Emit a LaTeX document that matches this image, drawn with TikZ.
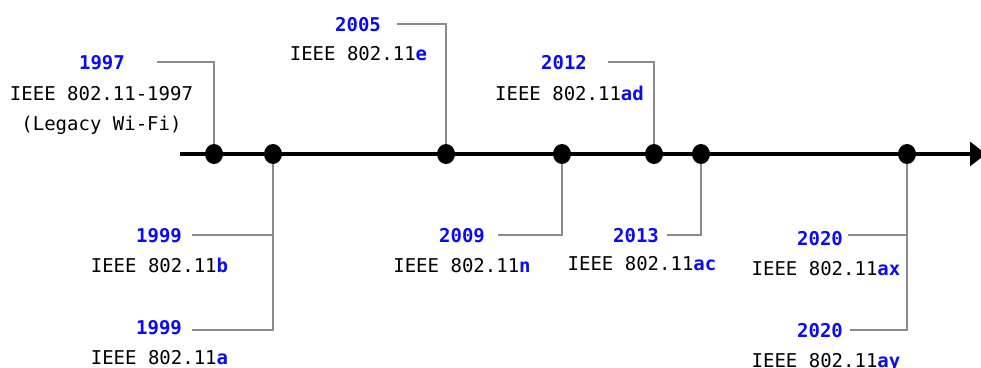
\documentclass[tikz,border=0pt]{standalone}
\usepackage{fontspec}
\setmainfont{DejaVu Sans Mono}
\usetikzlibrary{arrows.meta,shapes.geometric}
\definecolor{yrblue}{RGB}{10,10,245}
\definecolor{conngray}{RGB}{140,140,140}
\begin{document}
\begin{tikzpicture}[x=1pt,y=-1pt,
  txt/.style={anchor=base,inner sep=0pt,font=\fontsize{19}{24}\selectfont},
  yr/.style={txt,text=yrblue,font=\fontsize{19}{24}\selectfont\bfseries},
  dot/.style={ellipse,fill=black,minimum width=18pt,minimum height=20pt,inner sep=0pt},
  conn/.style={draw=conngray,line width=1.1pt},
  axisline/.style={draw=black,line width=3.1pt,-{Triangle[length=16pt,width=24pt]}}]
\useasboundingbox (0,0) rectangle (981,367);
% axis
\coordinate (axs) at (180,154);
\coordinate (axe) at (986,154);
\draw[axisline] (axs) -- (axe);
% dots
\node[dot] (d1997) at (214,154) {};
\node[dot] (d1999) at (273,154) {};
\node[dot] (d2005) at (446,154) {};
\node[dot] (d2009) at (562,154) {};
\node[dot] (d2012) at (654,154) {};
\node[dot] (d2013) at (701,154) {};
\node[dot] (d2020) at (907,154) {};
% connector ends
\coordinate (c1997) at (157,62);
\coordinate (c2005) at (397,24);
\coordinate (c2012) at (608,62);
\coordinate (c1999b) at (192,235);
\coordinate (c1999a) at (192,330);
\coordinate (c2009) at (498,235);
\coordinate (c2013) at (667,235);
\coordinate (c2020x) at (848,235);
\coordinate (c2020y) at (850,330);
% connectors
\draw[conn] (d1997) |- (c1997);
\draw[conn] (d2005) |- (c2005);
\draw[conn] (d2012) |- (c2012);
\draw[conn] (d1999) |- (c1999a);
\draw[conn] (c1999b) -- (c1999b -| d1999);
\draw[conn] (d2009) |- (c2009);
\draw[conn] (d2013) |- (c2013);
\draw[conn] (d2020) |- (c2020y);
\draw[conn] (c2020x) -- (c2020x -| d2020);
% labels
\node[yr] (y1997) at (102,69) {1997};
\node[txt] (t1997) at (101.5,100) {IEEE 802.11-1997};
\node[txt] (t1997b) at (101.5,130) {(Legacy Wi-Fi)};
\node[yr] (y2005) at (358,31) {2005};
\node[txt] (t2005) at (358.5,60) {IEEE 802.11\textcolor{yrblue}{\bfseries e}};
\node[yr] (y2012) at (564,69) {2012};
\node[txt] (t2012) at (569.5,100) {IEEE 802.11\textcolor{yrblue}{\bfseries ad}};
\node[yr] (y1999b) at (159,242) {1999};
\node[txt] (t1999b) at (159.5,272) {IEEE 802.11\textcolor{yrblue}{\bfseries b}};
\node[yr] (y1999a) at (159,334) {1999};
\node[txt] (t1999a) at (159.5,364) {IEEE 802.11\textcolor{yrblue}{\bfseries a}};
\node[yr] (y2009) at (462,242) {2009};
\node[txt] (t2009) at (462,272) {IEEE 802.11\textcolor{yrblue}{\bfseries n}};
\node[yr] (y2013) at (636,242) {2013};
\node[txt] (t2013) at (642,270) {IEEE 802.11\textcolor{yrblue}{\bfseries ac}};
\node[yr] (y2020x) at (820,245) {2020};
\node[txt] (t2020x) at (826,275) {IEEE 802.11\textcolor{yrblue}{\bfseries ax}};
\node[yr] (y2020y) at (820,337) {2020};
\node[txt] (t2020y) at (826,367) {IEEE 802.11\textcolor{yrblue}{\bfseries ay}};
\end{tikzpicture}
\end{document}
